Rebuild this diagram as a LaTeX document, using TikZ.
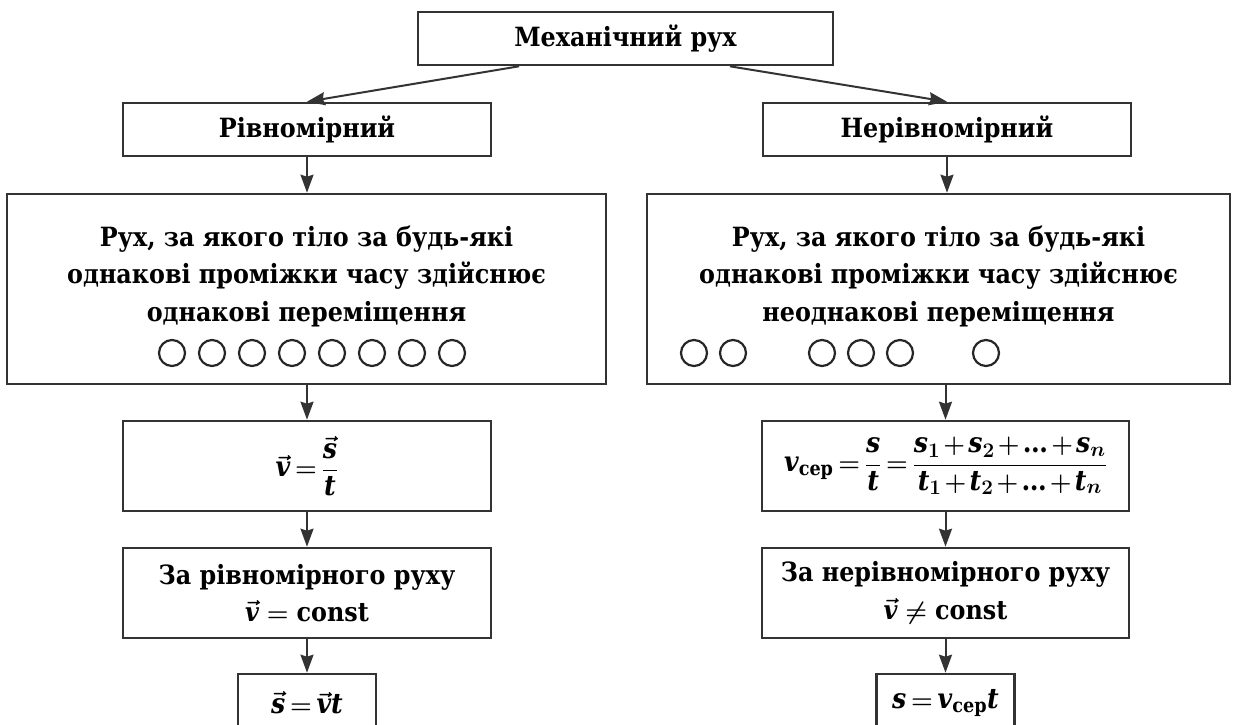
\documentclass[tikz,border=0pt]{standalone}
\usepackage{fontspec}
\setmainfont{DejaVu Serif Condensed}
\usepackage{amsmath}
\usetikzlibrary{arrows.meta}
\usetikzlibrary{calc}

\newcommand{\mv}[1]{\text{\itshape #1}}
\newcommand{\tightmath}{\medmuskip=2mu plus 1mu\thickmuskip=3mu plus 1mu}

\begin{document}
\begin{tikzpicture}[x=1pt, y=-1pt,
        box/.style = {draw=black!80, line width=2.6pt, inner sep=0pt, align=center,
                      font=\fontsize{26.5}{37.5}\selectfont\bfseries\boldmath},
        txt/.style = {inner sep=0pt, align=center,
                      font=\fontsize{26.5}{37.5}\selectfont\bfseries\boldmath},
        fml/.style = {box, font=\fontsize{28}{38}\selectfont\bfseries\boldmath\tightmath},
        arr/.style = {draw=black!80, line width=2pt,
                      -{Stealth[length=18pt,width=13pt,inset=2pt]}},
        ring/.style = {draw=black!85, line width=2.2pt}]
            \useasboundingbox (0,0) rectangle (1235,725);
            \clip (0,0) rectangle (1235,725);

            % top level
            \node[box, minimum width=415pt, minimum height=53pt] (top) at (625.5,38.5) {Механічний рух};
            \node[box, minimum width=368pt, minimum height=53pt] (rivn) at (307,129.5) {Рівномірний};
            \node[box, minimum width=368pt, minimum height=53pt] (nerivn) at (947,129.5) {Нерівномірний};

            % definitions
            \node[box, minimum width=599pt, minimum height=190pt] (defL) at (306.5,289) {};
            \node[box, minimum width=583pt, minimum height=190pt] (defR) at (938.5,289) {};
            \node[txt] (defLt) at (306.5,276) {Рух, за якого тіло за будь-які\\однакові проміжки часу здійснює\\однакові переміщення};
            \node[txt] (defRt) at (938.5,276) {Рух, за якого тіло за будь-які\\однакові проміжки часу здійснює\\неоднакові переміщення};
            \foreach \cx in {0,...,7}
                \draw[ring] (172+40*\cx,353) circle (13pt);
            \foreach \cx in {694,733,822,861,900,986}
                \draw[ring] (\cx,353) circle (13pt);

            % formulas
            \node[fml, minimum width=368pt, minimum height=90pt] (formL) at (307,466)
                {$\vec{\mv{v}} = \dfrac{\vec{\mv{s}}}{\mv{t}}$};
            \node[fml, minimum width=367pt, minimum height=90pt] (formR) at (945.5,466)
                {$\mv{v}_{\text{сер}} = \dfrac{\mv{s}}{\mv{t}} = \dfrac{\mv{s}_1+\mv{s}_2+\text{…}+\mv{s}_n}{\mv{t}_1+\mv{t}_2+\text{…}+\mv{t}_n}$};
            \node[box, minimum width=368pt, minimum height=90pt] (constL) at (307,593)
                {За рівномірного руху\\$\vec{\mv{v}} = \text{const}$};
            \node[box, minimum width=367pt, minimum height=90pt] (constR) at (945.5,593)
                {За нерівномірного руху\\$\vec{\mv{v}} \neq \text{const}$};
            \node[fml, minimum width=138pt, minimum height=58pt] (sL) at (307,703)
                {$\vec{\mv{s}} = \vec{\mv{v}}\mv{t}$};
            \node[fml, minimum width=138pt, minimum height=58pt] (sR) at (945.5,703)
                {$\mv{s} = \mv{v}_{\text{сер}}\mv{t}$};

            % arrows
            \coordinate (topL) at ($(top.south west)!0.245!(top.south east)$);
            \coordinate (topR) at ($(top.south west)!0.75!(top.south east)$);
            \draw[arr] (topL) -- (rivn.north);
            \draw[arr] (topR) -- (nerivn.north);
            \draw[arr] (rivn.south) -- (rivn.south |- defL.north);
            \draw[arr] (nerivn.south) -- (nerivn.south |- defR.north);
            \draw[arr] (formL.north |- defL.south) -- (formL.north);
            \draw[arr] (formR.north |- defR.south) -- (formR.north);
            \draw[arr] (formL.south) -- (constL.north);
            \draw[arr] (formR.south) -- (constR.north);
            \draw[arr] (constL.south) -- (sL.north);
            \draw[arr] (constR.south) -- (sR.north);

        \end{tikzpicture}
\end{document}
